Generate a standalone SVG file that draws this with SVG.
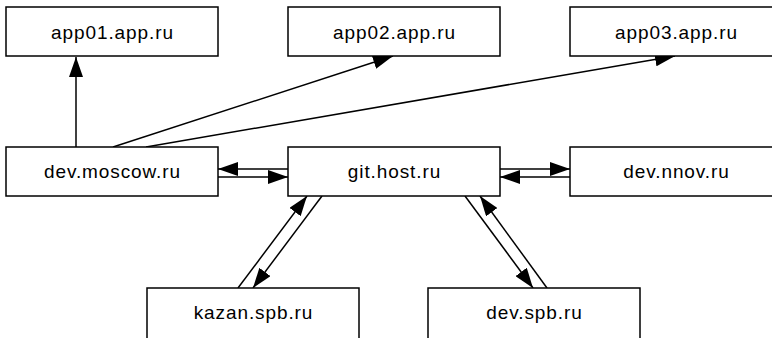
<svg xmlns="http://www.w3.org/2000/svg" width="772" height="338" viewBox="0 0 772 338">
<style>
.box{fill:#fff;stroke:#000;stroke-width:1.5}
.lbl{font-family:"Liberation Sans",Arial,sans-serif;font-size:19px;letter-spacing:0.9px;text-anchor:middle;fill:#000}
.edge{stroke:#000;stroke-width:1.5;fill:none;marker-end:url(#ah)}
</style>
<defs>
<marker id="ah" markerUnits="userSpaceOnUse" markerWidth="20" markerHeight="14" refX="20" refY="7" orient="auto" viewBox="0 0 20 14">
<path d="M0,0 L20,7 L0,14 z" fill="#000"/>
</marker>
</defs>
<rect width="772" height="338" fill="#fff"/>
<g id="connectors">
<line class="edge" x1="76" y1="147" x2="76" y2="57"/>
<line class="edge" x1="113" y1="147" x2="393" y2="56"/>
<line class="edge" x1="146" y1="147" x2="675" y2="56"/>
<line class="edge" x1="288" y1="169" x2="218" y2="169"/>
<line class="edge" x1="218" y1="177" x2="288" y2="177"/>
<line class="edge" x1="500" y1="169" x2="570" y2="169"/>
<line class="edge" x1="570" y1="177" x2="500" y2="177"/>
<line class="edge" x1="238" y1="288" x2="307" y2="196"/>
<line class="edge" x1="322" y1="196" x2="253" y2="288"/>
<line class="edge" x1="465" y1="196" x2="533" y2="288"/>
<line class="edge" x1="547" y1="288" x2="480" y2="196"/>
</g>
<g id="app01"><rect class="box" x="6" y="7" width="212" height="49"/><text class="lbl" x="112.5" y="39">app01.app.ru</text></g>
<g id="app02"><rect class="box" x="288" y="7" width="212" height="49"/><text class="lbl" x="394.5" y="39">app02.app.ru</text></g>
<g id="app03"><rect class="box" x="570" y="7" width="212" height="49"/><text class="lbl" x="676.5" y="39">app03.app.ru</text></g>
<g id="dev_moscow"><rect class="box" x="6" y="147" width="212" height="49"/><text class="lbl" x="112.5" y="178">dev.moscow.ru</text></g>
<g id="git_host"><rect class="box" x="288" y="147" width="212" height="49"/><text class="lbl" x="394.5" y="178">git.host.ru</text></g>
<g id="dev_nnov"><rect class="box" x="570" y="147" width="212" height="49"/><text class="lbl" x="676.5" y="178">dev.nnov.ru</text></g>
<g id="kazan_spb"><rect class="box" x="147" y="288" width="212" height="52"/><text class="lbl" x="253.5" y="319">kazan.spb.ru</text></g>
<g id="dev_spb"><rect class="box" x="428" y="288" width="212" height="52"/><text class="lbl" x="534.5" y="319">dev.spb.ru</text></g>
</svg>
